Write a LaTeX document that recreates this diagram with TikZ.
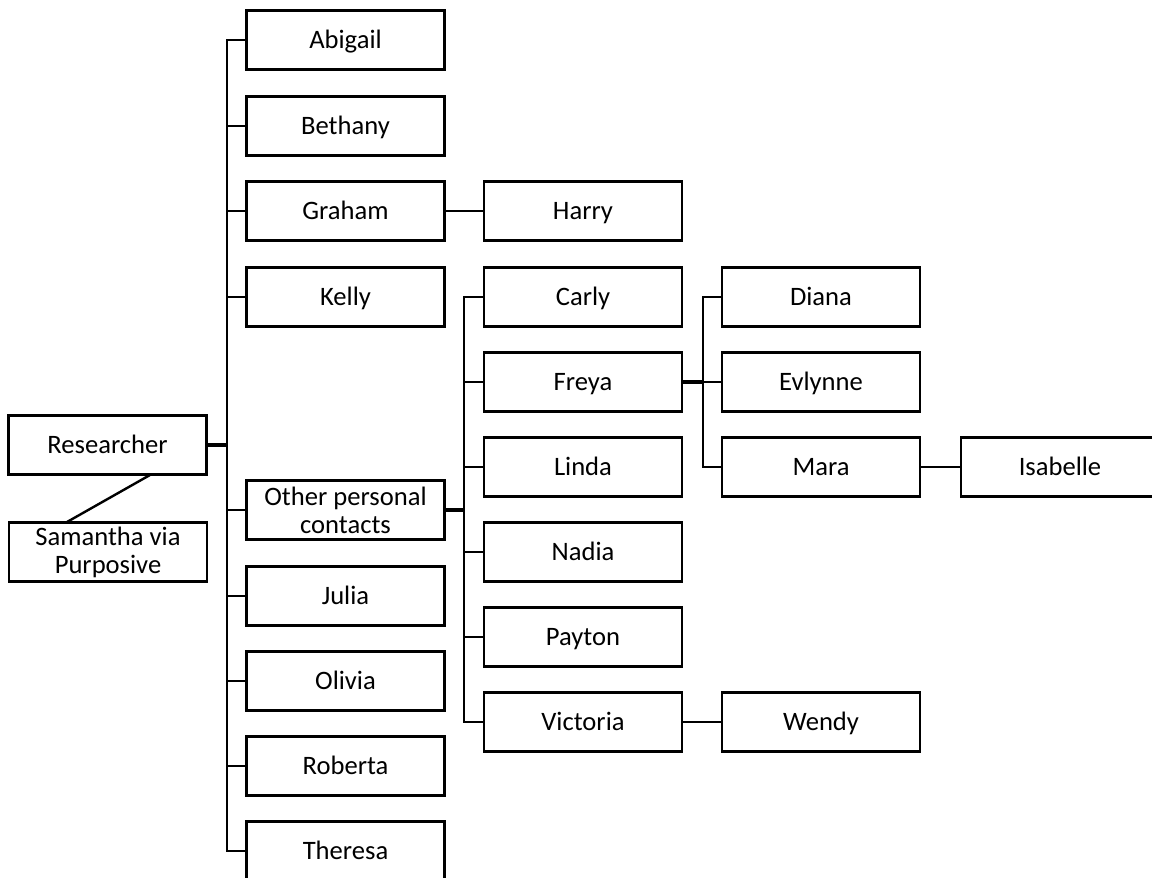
\documentclass[tikz,border=0pt]{standalone}
\usepackage{fontspec}
\setmainfont{Carlito}
\tikzset{
  person/.style={draw, line width=1.2pt, minimum width=99pt, minimum height=29.5pt,
    inner sep=0pt, align=center, font=\fontsize{13.3}{14}\selectfont},
  one/.style={person, text height=10.3pt, text depth=1.5pt},
  link/.style={line width=1.2pt},
  hub/.style={line width=1.7pt}
}
\begin{document}
\begin{tikzpicture}[x=0.5pt, y=-0.5pt]
\clip (0,0) rectangle (1152,878);
% root and its side note
\node[one] (res) at (107.5,445) {Researcher};
\node[person] (sam) at (108,552) {Samantha via\\Purposive};
\draw[link] (150,475) coordinate (resfoot) -- (67,522) coordinate (samtop);
% first level
\node[one] (abi) at (345.5,40) {Abigail};
\node[one] (bet) at (345.5,126) {Bethany};
\node[one] (gra) at (345.5,211) {Graham};
\node[one] (kel) at (345.5,297) {Kelly};
\node[person] (oth) at (345.5,510) {Other personal\\contacts};
\node[one] (jul) at (345.5,596) {Julia};
\node[one] (oli) at (345.5,681) {Olivia};
\node[one] (rob) at (345.5,766) {Roberta};
\node[one] (the) at (345.5,851) {Theresa};
% second level
\node[one] (har) at (583,211) {Harry};
\node[one] (car) at (583,297) {Carly};
\node[one] (fre) at (583,382) {Freya};
\node[one] (lin) at (583,467) {Linda};
\node[one] (nad) at (583,552) {Nadia};
\node[one] (pay) at (583,637) {Payton};
\node[one] (vic) at (583,722) {Victoria};
% third level
\node[one] (dia) at (821,297) {Diana};
\node[one] (evl) at (821,382) {Evlynne};
\node[one] (mar) at (821,467) {Mara};
\node[one] (wen) at (821,722) {Wendy};
% fourth level
\node[one] (isa) at (1060,467) {Isabelle};
% trunk columns
\coordinate (ta) at (227,0);
\coordinate (tb) at (464,0);
\coordinate (tc) at (703,0);
% researcher to first level
\draw[hub] (res.east) -- (ta |- res.east);
\foreach \n in {abi,bet,gra,kel,oth,jul,oli,rob,the}
  \draw[link] (ta |- res.east) |- (\n.west);
% other personal contacts to second level
\draw[hub] (oth.east) -- (tb |- oth.east);
\foreach \n in {car,fre,lin,nad,pay,vic}
  \draw[link] (tb |- oth.east) |- (\n.west);
% single links
\draw[link] (gra.east) -- (har.west);
\draw[link] (vic.east) -- (wen.west);
\draw[link] (mar.east) -- (isa.west);
% Freya to third level
\draw[hub] (fre.east) -- (tc |- fre.east);
\foreach \n in {dia,evl,mar}
  \draw[link] (tc |- fre.east) |- (\n.west);
\end{tikzpicture}
\end{document}
